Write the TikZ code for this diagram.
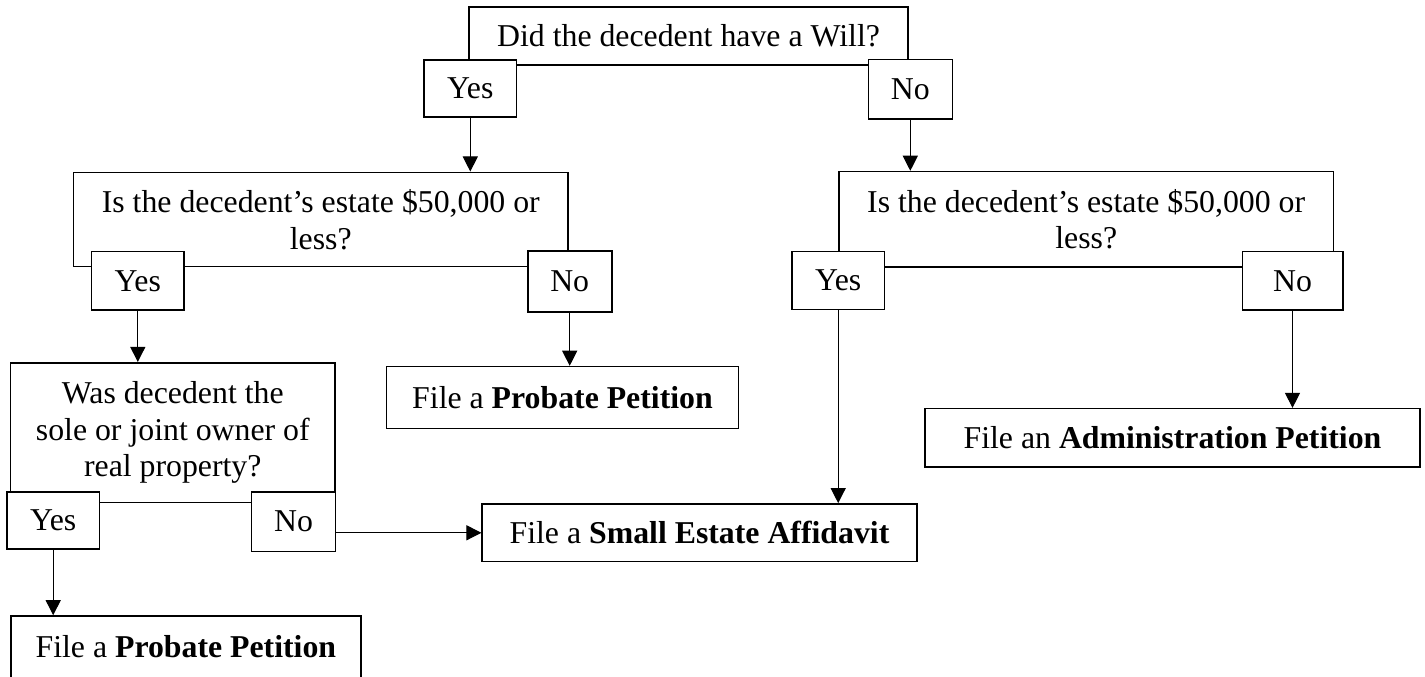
\documentclass[tikz,border=0pt]{standalone}
\usepackage{fontspec}
\setmainfont{Liberation Serif}
\usetikzlibrary{positioning,arrows.meta}

\begin{document}
\begin{tikzpicture}[x=0.3774pt,y=-0.3774pt,
    >={Triangle[length=5.7pt,width=5.7pt]},
    every node/.style={font=\fontsize{12}{13.85}\selectfont,align=center,inner sep=0pt},
    box/.style={draw,line width=0.6pt},
    answer/.style={box,fill=white},
    link/.style={->,line width=0.4pt}]
  \useasboundingbox (0,0) rectangle (1425,677);
  % questions
  \node[box,minimum width=165.7pt,minimum height=21.9pt] (Will) at (688.5,36) {Did the decedent have a Will?};
  \node[box,minimum width=186.8pt,minimum height=35.6pt] (EstateW) at (320.8,219.5) {Is the decedent’s estate \$50,000 or\\less?};
  \node[box,minimum width=186.6pt,minimum height=35.9pt] (EstateN) at (1086.2,219.2) {Is the decedent’s estate \$50,000 or\\less?};
  \node[box,minimum width=122.4pt,minimum height=52.8pt] (Owner) at (172.8,432.7) {Was decedent the\\sole or joint owner of\\real property?};
  % answers
  \node[answer,minimum width=35pt,minimum height=21.5pt] (WillY) at (470.3,88.5) {Yes};
  \node[answer,minimum width=31.7pt,minimum height=22.5pt] (WillN) at (910.3,89.2) {No};
  \node[answer,minimum width=34.8pt,minimum height=22pt] (EstateWY) at (137.8,280.8) {Yes};
  \node[answer,minimum width=31.7pt,minimum height=22.9pt] (EstateWN) at (569.7,281.4) {No};
  \node[answer,minimum width=34.8pt,minimum height=22pt] (EstateNY) at (838.2,280.5) {Yes};
  \node[answer,minimum width=37.9pt,minimum height=22pt] (EstateNN) at (1292.5,280.8) {No};
  \node[answer,minimum width=34.8pt,minimum height=21.6pt] (OwnerY) at (53.2,520.4) {Yes};
  \node[answer,minimum width=31.6pt,minimum height=22.6pt] (OwnerN) at (293.5,521.7) {No};
  % outcomes
  \node[box,minimum width=132.7pt,minimum height=23.4pt] (ProbateA) at (562.5,397.6) {File a \textbf{Probate Petition}};
  \node[box,minimum width=186.8pt,minimum height=21.9pt] (Admin) at (1172.5,437.7) {File an \textbf{Administration Petition}};
  \node[box,minimum width=164pt,minimum height=21.8pt] (Small) at (699.5,532.8) {File a \textbf{Small Estate Affidavit}};
  \node[box,minimum width=132.2pt,minimum height=23.4pt] (ProbateB) at (185.9,647) {File a \textbf{Probate Petition}};
  % arrows
  \draw[link] (WillY.south) -- (WillY.south |- EstateW.north);
  \draw[link] (WillN.south) -- (WillN.south |- EstateN.north);
  \draw[link] (EstateWY.south) -- (EstateWY.south |- Owner.north);
  \draw[link] (EstateWN.south) -- (EstateWN.south |- ProbateA.north);
  \draw[link] (EstateNY.south) -- (EstateNY.south |- Small.north);
  \draw[link] (EstateNN.south) -- (EstateNN.south |- Admin.north);
  \draw[link] (OwnerY.south) -- (OwnerY.south |- ProbateB.north);
  \draw[link] (OwnerN.east |- Small.west) -- (Small.west);
\end{tikzpicture}
\end{document}
